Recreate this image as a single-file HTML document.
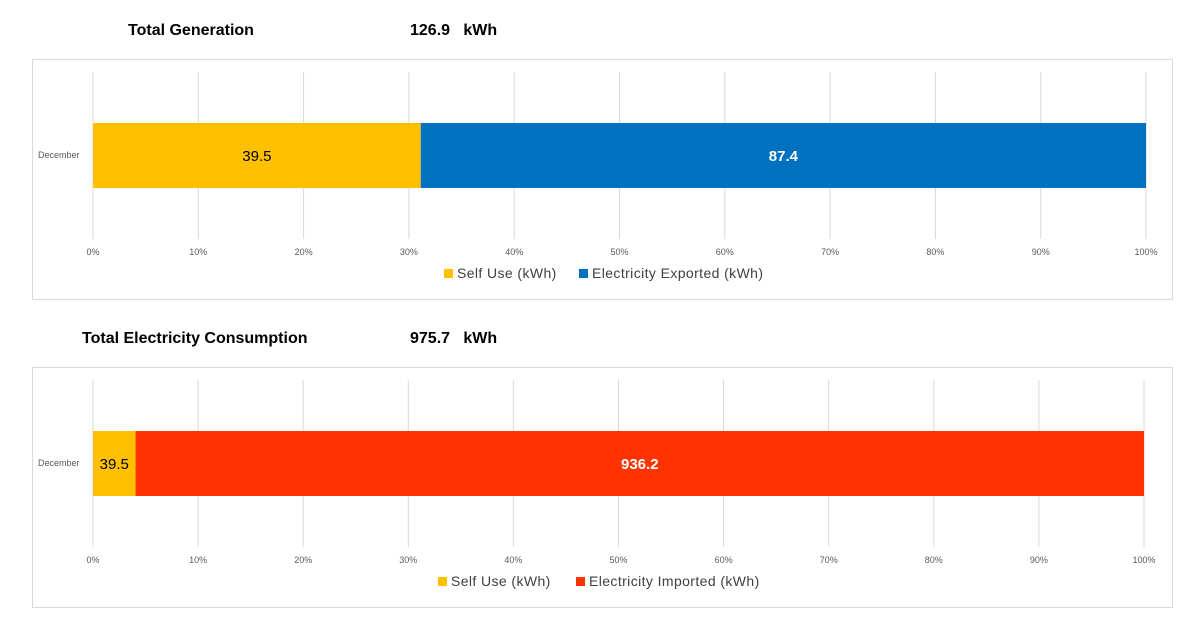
<!DOCTYPE html>
<html><head><meta charset="utf-8">
<style>
body{margin:0;background:#fff;font-family:"Liberation Sans",sans-serif}
svg{display:block}
</style></head>
<body>
<svg id="c" width="1200" height="628" xmlns="http://www.w3.org/2000/svg"></svg>
<script>
const ticks=["0%","10%","20%","30%","40%","50%","60%","70%","80%","90%","100%"];
const category="December";
const genTotal="126.9";
const genSelfUse=[39.5];
const genExported=[87.4];
const consTotal="975.7";
const consSelfUse=[39.5];
const consImported=[936.2];

const svg=document.getElementById('c');
const NS="http://www.w3.org/2000/svg";
function mk(tag,attrs,text){const e=document.createElementNS(NS,tag);for(const k in attrs)e.setAttribute(k,attrs[k]);if(text!==undefined)e.textContent=text;svg.appendChild(e);return e;}

function chart(o){
  const title=mk('text',{x:o.titleX,y:o.top-24,'font-size':16,'font-weight':'bold',fill:'#000'},o.title);
  
  
  const tot=mk('text',{x:410,y:o.top-24,'font-size':16,'font-weight':'bold',fill:'#000'},o.total+"\u00a0\u00a0\u00a0kWh");
  
  
  const box=mk('rect',{x:32.5,y:o.top+0.5,width:1140,height:240,fill:'#fff',stroke:'#d9d9d9'});
  
  
  const x0=93,x1=o.x100;
  const sx=p=>x0+(x1-x0)*p;
  ticks.forEach((t,i)=>{
    const x=sx(i/10);
    const g=mk('line',{x1:x,x2:x,y1:o.top+13,y2:o.top+180,stroke:'#d9d9d9','stroke-width':1});
    
    
    const tl=mk('text',{x:x,y:o.top+196,'font-size':9,fill:'#595959','text-anchor':'middle'},t);
    
    
  });
  const cl=mk('text',{x:38,y:o.top+99,'font-size':9,fill:'#595959'},category);
  
  
  const a=o.a[0],b=o.b[0],s=a+b;
  const by=o.top+64,bh=65;
  const r1=mk('rect',{x:sx(0),y:by,width:sx(a/s)-sx(0),height:bh,fill:'#ffc000'});
  
  
  const r2=mk('rect',{x:sx(a/s),y:by,width:sx(1)-sx(a/s),height:bh,fill:o.color2});
  
  
  const l1=mk('text',{x:(sx(0)+sx(a/s))/2,y:by+38,'font-size':15,fill:'#000','text-anchor':'middle'},String(a));
  
  
  const l2=mk('text',{x:(sx(a/s)+sx(1))/2,y:by+38,'font-size':15,'font-weight':'bold',fill:'#fff','text-anchor':'middle'},String(b));
  
  
  const ly=o.top+219;
  const m1=mk('rect',{x:o.legX,y:ly-9,width:9,height:9,fill:'#ffc000'});
  
  
  const t1=mk('text',{x:o.legX+13,y:ly,'font-size':14,fill:'#404040','letter-spacing':0.4},"Self Use (kWh)");
  
  
  const m2=mk('rect',{x:o.legX2,y:ly-9,width:9,height:9,fill:o.color2});
  
  
  const t2=mk('text',{x:o.legX2+13,y:ly,'font-size':14,fill:'#404040','letter-spacing':0.4},o.label2);
  
  
}
chart({key:'generation',key2:'exported',title:'Total Generation',titleX:128,total:genTotal,top:59,x100:1146,a:genSelfUse,b:genExported,color2:'#0070c0',label2:'Electricity Exported (kWh)',legX:444,legX2:579});
chart({key:'consumption',key2:'imported',title:'Total Electricity Consumption',titleX:82,total:consTotal,top:367,x100:1144,a:consSelfUse,b:consImported,color2:'#ff3300',label2:'Electricity Imported (kWh)',legX:438,legX2:576});
</script>
</body></html>
